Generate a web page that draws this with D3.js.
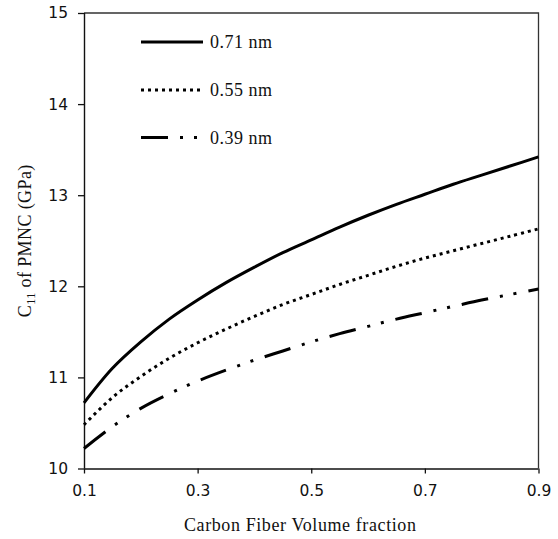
<!DOCTYPE html>
<html>
<head>
<meta charset="utf-8">
<script src="https://cdn.jsdelivr.net/npm/d3@7"></script>
<style>
  html, body { margin: 0; padding: 0; background: #fff; }
  svg { display: block; }
</style>
</head>
<body>
<div id="chart"></div>
<script>
// ---- data ----
const xValues = [0.10, 0.15, 0.20, 0.25, 0.30, 0.35, 0.40, 0.45, 0.50, 0.55, 0.60, 0.65, 0.70, 0.75, 0.80, 0.85, 0.90];
const s071 = [10.72, 11.10, 11.39, 11.64, 11.85, 12.04, 12.21, 12.37, 12.51, 12.65, 12.78, 12.90, 13.01, 13.12, 13.22, 13.32, 13.42];
const s055 = [10.48, 10.78, 11.01, 11.21, 11.38, 11.53, 11.67, 11.80, 11.91, 12.02, 12.12, 12.22, 12.31, 12.39, 12.47, 12.55, 12.63];
const s039 = [10.22, 10.46, 10.66, 10.82, 10.96, 11.08, 11.19, 11.29, 11.39, 11.48, 11.56, 11.64, 11.71, 11.78, 11.85, 11.91, 11.97];
const seriesNames = ["0.71 nm", "0.55 nm", "0.39 nm"];
const xTicks = [0.1, 0.3, 0.5, 0.7, 0.9];
const yTicks = [10, 11, 12, 13, 14, 15];

(function () {
// ---- layout ----
const W = 558, H = 539;
const pL = 84, pR = 538.5, pT = 13, pB = 468.5;
const serif = "'Liberation Serif', 'Times New Roman', serif";

const svg = d3.select("#chart").append("svg").attr("width", W).attr("height", H);

const x = d3.scaleLinear().domain([0.1, 0.9]).range([pL, pR]);
const y = d3.scaleLinear().domain([10, 15]).range([pB, pT]);

const styles = [
  { dash: null, width: 3 },
  { dash: "3,4", width: 3 },
  { dash: "27,12,3,11,3,12", width: 3 }
];
const seriesVals = [s071, s055, s039];

// frame (top, right)
svg.append("path")
  .attr("d", `M${pL},${pT}H${pR}V${pB}`)
  .attr("fill", "none").attr("stroke", "#333").attr("stroke-width", 1.3);

// axes
const yAxis = d3.axisLeft(y).tickValues(yTicks).tickFormat(d3.format("d")).tickSize(6).tickPadding(10);
const xAxis = d3.axisBottom(x).tickValues(xTicks).tickFormat(d3.format(".1f")).tickSize(5).tickPadding(11);

const gy = svg.append("g").attr("transform", `translate(${pL},0)`).call(yAxis);
const gx = svg.append("g").attr("transform", `translate(0,${pB})`).call(xAxis);
[gx, gy].forEach(g => {
  g.select(".domain").attr("stroke", "#111").attr("stroke-width", 1.4);
  g.selectAll(".tick line").attr("stroke", "#111").attr("stroke-width", 1.3);
  g.selectAll(".tick text").attr("fill", "#111")
    .style("font-family", "'DejaVu Sans', sans-serif").style("font-size", "15.5px");
});
gy.select(".domain").attr("d", `M0.5,${pB}V${pT}`);
gx.select(".domain").attr("d", `M${pL},0.5H${pR}`);

// lines
const line = d3.line().x(d => x(d[0])).y(d => y(d[1])).curve(d3.curveCatmullRom.alpha(0.5));
seriesVals.forEach((vals, i) => {
  const pts = xValues.map((xv, j) => [xv, vals[j]]);
  svg.append("path")
    .attr("d", line(pts))
    .attr("fill", "none")
    .attr("stroke", "#000")
    .attr("stroke-width", styles[i].width)
    .attr("stroke-dasharray", styles[i].dash);
});

// legend
const legY = [42, 90, 137.5];
seriesNames.forEach((name, i) => {
  svg.append("line")
    .attr("x1", 141).attr("x2", i === 0 ? 203 : 200)
    .attr("y1", legY[i]).attr("y2", legY[i])
    .attr("stroke", "#000").attr("stroke-width", styles[i].width)
    .attr("stroke-dasharray", styles[i].dash);
  svg.append("text")
    .attr("x", 210).attr("y", legY[i] + 6)
    .style("font-family", serif)
    .style("font-size", "18px").style("letter-spacing", "0.5px").attr("fill", "#111")
    .text(name);
});

// axis titles
svg.append("text")
  .attr("x", (pL + pR) / 2 - 11).attr("y", 531)
  .attr("text-anchor", "middle")
  .style("font-family", serif)
  .style("font-size", "18px").style("letter-spacing", "0.6px").attr("fill", "#111")
  .text("Carbon Fiber Volume fraction");

const yt = svg.append("text")
  .attr("transform", `translate(31,${(pT + pB) / 2}) rotate(-90)`)
  .attr("text-anchor", "middle")
  .style("font-family", serif)
  .style("font-size", "18px").style("letter-spacing", "0.4px").attr("fill", "#111");
yt.append("tspan").text("C");
yt.append("tspan").attr("dy", 4).style("font-size", "12px").text("11");
yt.append("tspan").attr("dy", -4).text(" of PMNC (GPa)");
})();
</script>
</body>
</html>
